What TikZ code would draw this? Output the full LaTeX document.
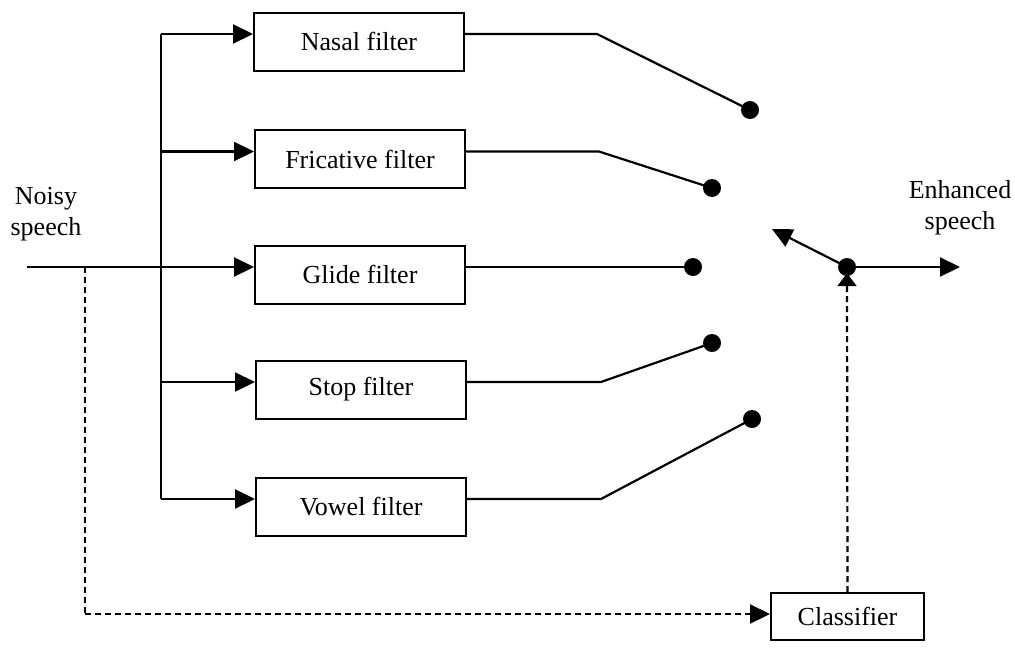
\documentclass[tikz,border=0pt]{standalone}
\usepackage{fontspec}
\setmainfont{Liberation Serif}
\usetikzlibrary{arrows.meta}
\begin{document}
\begin{tikzpicture}[x=1pt,y=-1pt,
  every node/.style={font=\fontsize{26}{31}\selectfont},
  filterbox/.style={draw,line width=2pt,minimum width=210pt,minimum height=58pt,inner sep=0pt},
  wire/.style={line width=2.2pt},
  arr/.style={wire,-{Triangle[length=20pt,width=19pt]}},
  ctrlline/.style={line width=2.2pt,dash pattern=on 6pt off 4pt},
  contact/.style={circle,fill,inner sep=0pt,minimum size=18pt},
  lbl/.style={align=center,inner sep=0pt}]
\useasboundingbox (0,0) rectangle (1015,648);

% filter bank
\node[filterbox] (nasal) at (359,41.5) {Nasal filter};
\node[filterbox] (fric)  at (360,159)  {Fricative filter};
\node[filterbox] (glide) at (360,274.5){Glide filter};
\node[filterbox] (stop)  at (361,389.5){Stop filter};
\node[filterbox] (vowel) at (361,506.5){Vowel filter};
\node[filterbox,minimum width=153pt,minimum height=47pt] (cls) at (847.5,616.5) {Classifier};

% signal ports, slightly above each box centre
\foreach \f in {nasal,fric,glide,stop,vowel}{
  \coordinate (\f-in)  at ([yshift=7.5pt]\f.west);
  \coordinate (\f-out) at ([yshift=7.5pt]\f.east);
}

% labels
\node[lbl] (noisy) at (46,214) {Noisy\\speech};
\node[lbl] (enh) at (960,208) {Enhanced\\speech};

% switch contacts
\node[contact] (c1) at (750,110) {};
\node[contact] (c2) at (712,188) {};
\node[contact] (c3) at (693,267) {};
\node[contact] (c4) at (712,343) {};
\node[contact] (c5) at (752,419) {};
\node[contact] (pivot) at (847,267) {};

\coordinate (in) at (27,267);
\coordinate (tap) at (85,267);
\coordinate (split) at (161,267);
\coordinate (lever) at (772,229);
\coordinate (out) at (960,267);
\coordinate (low) at (85,614);

% input and distribution to the filters
\draw[wire] (in) -- (split);
\draw[arr] (split) -- (glide-in);
\draw[wire] (split |- nasal-in) -- (split |- vowel-in);
\draw[arr] (split |- nasal-in) -- (nasal-in);
\draw[arr] (split |- fric-in) -- (fric-in);
\draw[arr] (split |- stop-in) -- (stop-in);
\draw[arr] (split |- vowel-in) -- (vowel-in);

% filter outputs to the switch contacts
\draw[wire] (nasal-out) -- ++(132,0) -- (c1.center);
\draw[wire] (fric-out) -- ++(133,0) -- (c2.center);
\draw[wire] (glide-out) -- (c3.center);
\draw[wire] (stop-out) -- ++(134,0) -- (c4.center);
\draw[wire] (vowel-out) -- ++(134,0) -- (c5.center);

% switch lever and output
\draw[arr] (pivot.center) -- (lever);
\draw[arr] (pivot.center) -- (out);

% classifier path
\draw[ctrlline] (tap) -- (low);
\draw[ctrlline,-{Triangle[length=20pt,width=19pt]}] (low) -- (low -| cls.west);
\draw[ctrlline,-{Triangle[length=13pt,width=19pt]}] (cls.north) -- ([yshift=3pt]pivot.south);
\end{tikzpicture}
\end{document}
